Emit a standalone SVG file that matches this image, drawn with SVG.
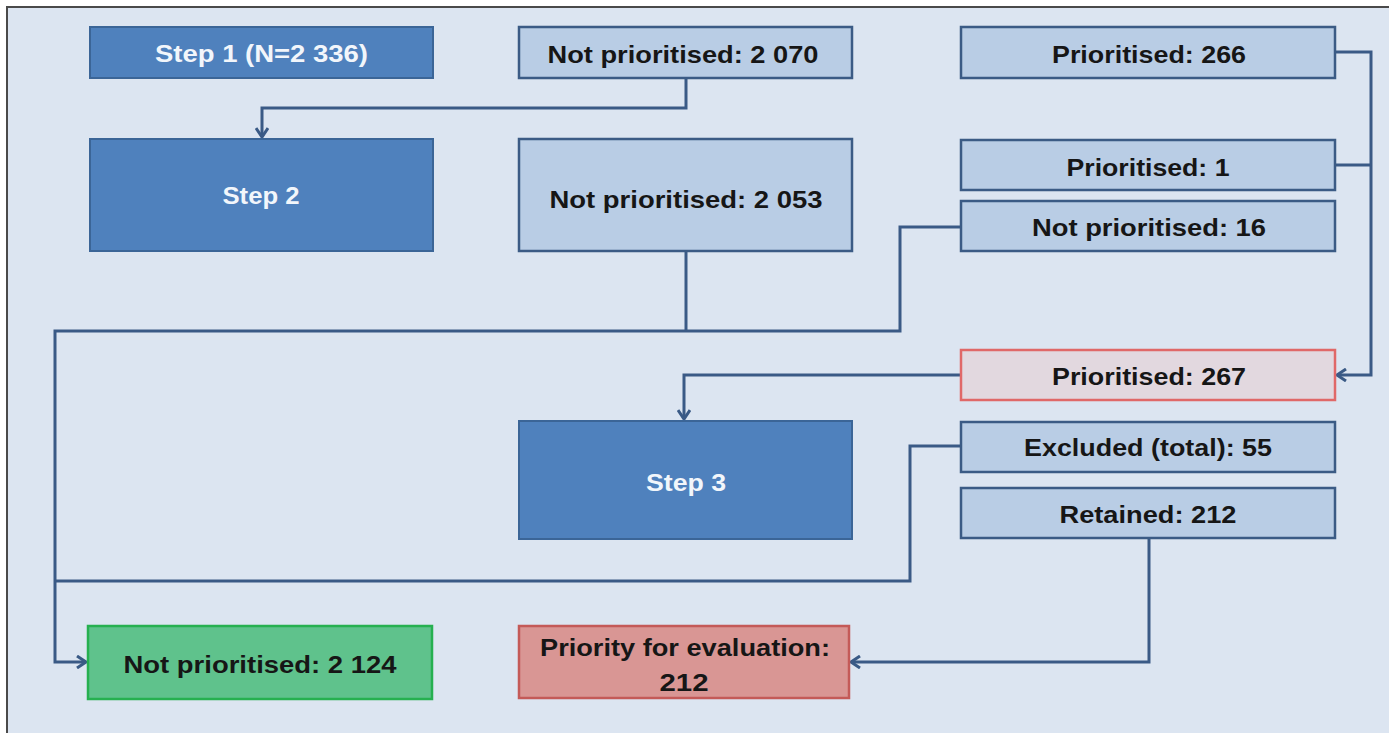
<svg xmlns="http://www.w3.org/2000/svg" width="1389" height="733" viewBox="0 0 1389 733">
<defs>
<style>
.step{fill:#4f81bd;stroke:#3b6597;stroke-width:2}
.lite{fill:#b9cde5;stroke:#3b5b85;stroke-width:2.5}
.t{font-family:"Liberation Sans",Arial,sans-serif;font-weight:bold;font-size:24px;text-anchor:middle;fill:#161616}
.w{fill:#f2f6fb}
.c{fill:none;stroke:#3a5a86;stroke-width:3}
</style>
<marker id="ah" markerWidth="14" markerHeight="14" refX="11" refY="7" orient="auto" markerUnits="userSpaceOnUse">
<path d="M2,1 L11,7 L2,13" fill="none" stroke="#3a5a86" stroke-width="3"/>
</marker>
</defs>
<rect x="0" y="0" width="1389" height="733" fill="#ffffff"/>
<rect x="7" y="7" width="1390" height="740" fill="#dce5f1" stroke="#4a4a4a" stroke-width="2"/>

<g id="connectors">
<path class="c" d="M686,78 V108 H262 V137" marker-end="url(#ah)"/>
<path class="c" d="M686,251 V331"/>
<path class="c" d="M961,227 H900 V331 H55 V662 H86" marker-end="url(#ah)"/>
<path class="c" d="M961,446 H910 V581 H55"/>
<path class="c" d="M1335,52 H1371 V375 H1337" marker-end="url(#ah)"/>
<path class="c" d="M1335,165 H1371"/>
<path class="c" d="M961,375 H684 V419" marker-end="url(#ah)"/>
<path class="c" d="M1149,538 V662 H851" marker-end="url(#ah)"/>
</g>

<g id="step1">
<rect class="step" x="90" y="27" width="343" height="51"/>
<text class="t w" x="261.5" y="62" textLength="213" lengthAdjust="spacingAndGlyphs">Step 1 (N=2 336)</text>
</g>
<g id="np2070">
<rect class="lite" x="519" y="27" width="333" height="51"/>
<text class="t" x="683" y="63" textLength="271" lengthAdjust="spacingAndGlyphs">Not prioritised: 2 070</text>
</g>
<g id="p266">
<rect class="lite" x="961" y="27" width="374" height="51"/>
<text class="t" x="1149" y="63" textLength="194" lengthAdjust="spacingAndGlyphs">Prioritised: 266</text>
</g>
<g id="step2">
<rect class="step" x="90" y="139" width="343" height="112"/>
<text class="t w" x="261" y="204" textLength="77" lengthAdjust="spacingAndGlyphs">Step 2</text>
</g>
<g id="np2053">
<rect class="lite" x="519" y="139" width="333" height="112"/>
<text class="t" x="686" y="208" textLength="273" lengthAdjust="spacingAndGlyphs">Not prioritised: 2 053</text>
</g>
<g id="p1">
<rect class="lite" x="961" y="140" width="374" height="50"/>
<text class="t" x="1148" y="176" textLength="163" lengthAdjust="spacingAndGlyphs">Prioritised: 1</text>
</g>
<g id="np16">
<rect class="lite" x="961" y="201" width="374" height="50"/>
<text class="t" x="1149" y="236" textLength="234" lengthAdjust="spacingAndGlyphs">Not prioritised: 16</text>
</g>
<g id="p267">
<rect x="961" y="350" width="374" height="50" fill="#e2d8df" stroke="#e06868" stroke-width="2.5"/>
<text class="t" x="1149" y="385" textLength="194" lengthAdjust="spacingAndGlyphs">Prioritised: 267</text>
</g>
<g id="step3">
<rect class="step" x="519" y="421" width="333" height="118"/>
<text class="t w" x="686" y="491" textLength="80" lengthAdjust="spacingAndGlyphs">Step 3</text>
</g>
<g id="excluded">
<rect class="lite" x="961" y="422" width="374" height="50"/>
<text class="t" x="1148" y="456" textLength="248" lengthAdjust="spacingAndGlyphs">Excluded (total): 55</text>
</g>
<g id="retained">
<rect class="lite" x="961" y="488" width="374" height="50"/>
<text class="t" x="1148" y="523" textLength="177" lengthAdjust="spacingAndGlyphs">Retained: 212</text>
</g>
<g id="np2124">
<rect x="88" y="626" width="344" height="73" fill="#5fc28c" stroke="#26b050" stroke-width="2.5"/>
<text class="t" x="260" y="673" textLength="273" lengthAdjust="spacingAndGlyphs">Not prioritised: 2 124</text>
</g>
<g id="priority">
<rect x="519" y="626" width="330" height="72" fill="#d99694" stroke="#c45a58" stroke-width="2.5"/>
<text class="t" x="685" y="656" textLength="290" lengthAdjust="spacingAndGlyphs">Priority for evaluation:</text>
<text class="t" x="684" y="691" textLength="49" lengthAdjust="spacingAndGlyphs">212</text>
</g>
</svg>
